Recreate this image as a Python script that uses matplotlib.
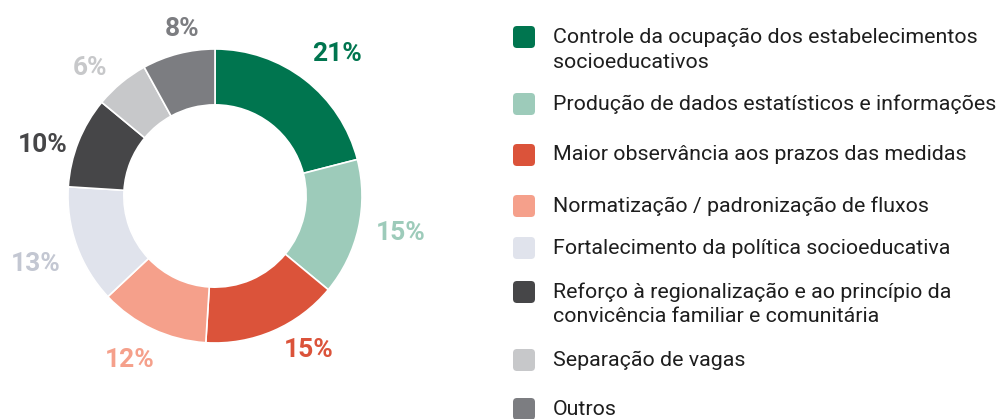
import matplotlib
matplotlib.use('Agg')
import matplotlib.pyplot as plt
from matplotlib.patches import FancyBboxPatch

plt.rcParams['font.family'] = ['Roboto', 'DejaVu Sans']

labels = ['Controle da ocupação dos estabelecimentos\nsocioeducativos',
          'Produção de dados estatísticos e informações',
          'Maior observância aos prazos das medidas',
          'Normatização / padronização de fluxos',
          'Fortalecimento da política socioeducativa',
          'Reforço à regionalização e ao princípio da\nconvicência familiar e comunitária',
          'Separação de vagas',
          'Outros']
shares = [21, 15, 15, 12, 13, 10, 6, 8]
colors = ['#00754F', '#9DCBBA', '#DB533A', '#F5A08B',
          '#E0E3EC', '#464648', '#C7C8CA', '#7C7D81']
text_colors = ['#00754F', '#9DCBBA', '#DB533A', '#F5A08B',
               '#C3C7D2', '#464648', '#C7C8CA', '#7C7D81']

W, H = 999, 419
fig = plt.figure(figsize=(W / 100, H / 100), dpi=100)
ax = fig.add_axes([0, 0, 1, 1])

# donut, drawn in pixel units
cx, cy, R = 215, H - 196, 147
wedges, _, pct = ax.pie(shares, colors=colors, startangle=90, counterclock=False,
                        center=(cx, cy), radius=R, autopct='%.0f%%',
                        pctdistance=1.27,
                        wedgeprops=dict(width=R * 0.38, edgecolor='white', linewidth=1.2))

# hand nudges for the percentage labels (px, +y = down)
nudge = [(8, 6), (3, -4), (20, -17), (-6, -5), (-4, 5), (1, 18), (-6, 16), (13, 14)]
for t, c, (dx, dy) in zip(pct, text_colors, nudge):
    x, y = t.get_position()
    t.set_position((x + dx, y - dy))
    t.set_color(c)
    t.set_fontsize(19)
    t.set_fontweight('bold')

# legend rows: swatch centre y (from top) for each entry
row_y = [37, 104, 155, 206, 248, 292, 360, 409]
line_h = 25
for lab, col, y in zip(labels, colors, row_y):
    sw = 22
    ax.add_patch(FancyBboxPatch((513, H - y - sw / 2), sw, sw,
                                boxstyle='round,pad=0,rounding_size=4',
                                fc=col, ec='none'))
    for i, line in enumerate(lab.split('\n')):
        ax.text(553, H - y - i * line_h, line, fontsize=15.4, color='#1e1e1e',
                va='center', ha='left')

ax.set_xlim(0, W)
ax.set_ylim(0, H)
ax.set_aspect('equal')
ax.axis('off')

fig.savefig('out.png', dpi=100)
